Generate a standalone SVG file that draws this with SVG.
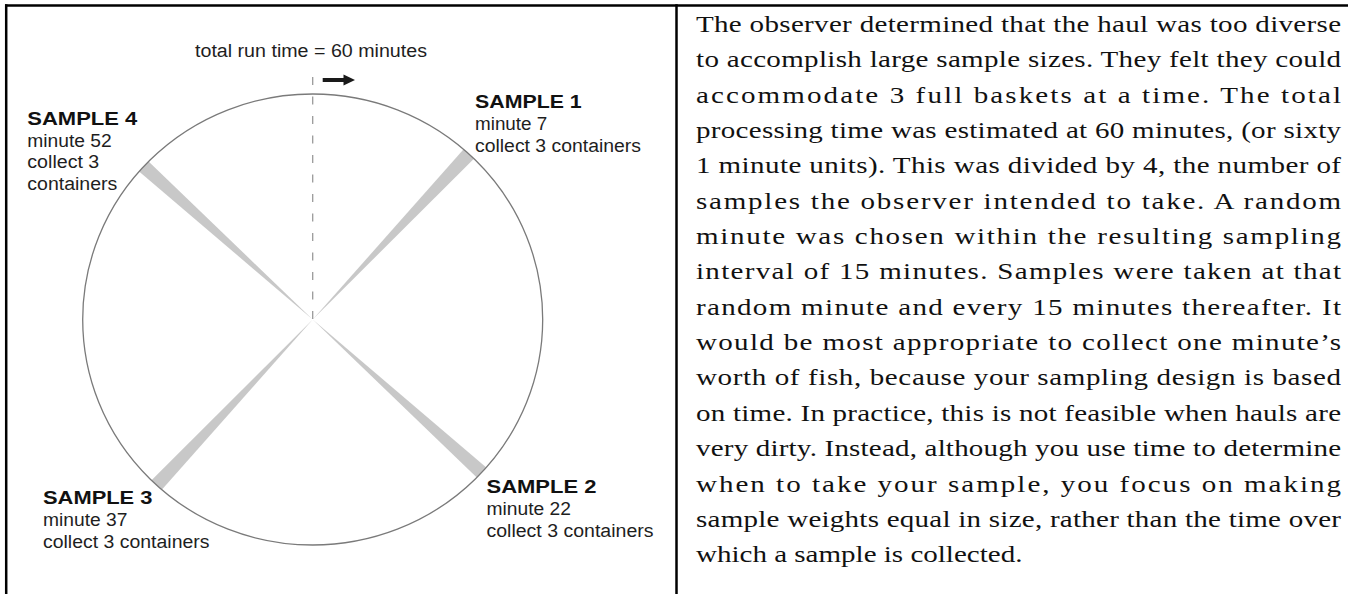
<svg xmlns="http://www.w3.org/2000/svg" width="1348" height="594" viewBox="0 0 1348 594">
  <style>
    .frame { stroke: #000; stroke-width: 2.5; fill: none; }
    .wedge { fill: #c8c8c8; stroke: none; }
    .dial { fill: none; stroke: #7a7a7a; stroke-width: 1.3; }
    .lbl { font-family: "Liberation Sans", Arial, sans-serif; font-size: 18px; fill: #1e1e1e; }
    .hd { font-family: "Liberation Sans", Arial, sans-serif; font-size: 18.5px; font-weight: bold; fill: #111; }
    .para { font-family: "Liberation Serif", "Times New Roman", serif; font-size: 24px; fill: #111; }
  </style>
  <rect width="1348" height="594" fill="#fff"/>

  <g id="frame">
    <line class="frame" x1="5" y1="5.4" x2="1348" y2="5.4"/>
    <line class="frame" x1="6.2" y1="4.2" x2="6.2" y2="594"/>
    <line class="frame" x1="676.5" y1="4.2" x2="676.5" y2="594"/>
  </g>

  <g id="dial">
    <path class="wedge" d="M312.7,319.5 L463.6,149.3 A230,225.5 0 0 1 473.9,158.7 Z"/>
    <path class="wedge" d="M312.7,319.5 L486.3,467.5 A230,225.5 0 0 1 476.8,477.6 Z"/>
    <path class="wedge" d="M312.7,319.5 L161.8,489.7 A230,225.5 0 0 1 151.5,480.3 Z"/>
    <path class="wedge" d="M312.7,319.5 L139.1,171.5 A230,225.5 0 0 1 148.6,161.5 Z"/>
    <ellipse class="dial" cx="312.7" cy="319.5" rx="230" ry="225.5"/>
  </g>

  <g id="connectors">
    <line x1="312.7" y1="77" x2="312.7" y2="319.5" stroke="#9a9a9a" stroke-width="1.3" stroke-dasharray="8 11.5"/>
    <path d="M322.7,78 L343.5,78 L343.5,74.5 L355,80 L343.5,85.5 L343.5,82 L322.7,82 Z" fill="#1a1a1a"/>
  </g>

  <g id="title">
    <text class="lbl" x="195" y="57" textLength="232" lengthAdjust="spacingAndGlyphs">total run time = 60 minutes</text>
  </g>

  <g id="sample1">
    <text class="hd" x="475" y="108.3" textLength="106.7" lengthAdjust="spacingAndGlyphs">SAMPLE 1</text>
    <text class="lbl" x="475" y="130" textLength="72.3" lengthAdjust="spacingAndGlyphs">minute 7</text>
    <text class="lbl" x="475" y="151.7" textLength="166" lengthAdjust="spacingAndGlyphs">collect 3 containers</text>
  </g>

  <g id="sample2">
    <text class="hd" x="486.5" y="493.3" textLength="110" lengthAdjust="spacingAndGlyphs">SAMPLE 2</text>
    <text class="lbl" x="486.5" y="515" textLength="84.5" lengthAdjust="spacingAndGlyphs">minute 22</text>
    <text class="lbl" x="486.5" y="536.7" textLength="167" lengthAdjust="spacingAndGlyphs">collect 3 containers</text>
  </g>

  <g id="sample3">
    <text class="hd" x="43" y="504.3" textLength="109.5" lengthAdjust="spacingAndGlyphs">SAMPLE 3</text>
    <text class="lbl" x="43" y="526" textLength="84.5" lengthAdjust="spacingAndGlyphs">minute 37</text>
    <text class="lbl" x="43" y="547.7" textLength="166.5" lengthAdjust="spacingAndGlyphs">collect 3 containers</text>
  </g>

  <g id="sample4">
    <text class="hd" x="27.3" y="125" textLength="110" lengthAdjust="spacingAndGlyphs">SAMPLE 4</text>
    <text class="lbl" x="27.3" y="146.7" textLength="84.4" lengthAdjust="spacingAndGlyphs">minute 52</text>
    <text class="lbl" x="27.3" y="168.3" textLength="72" lengthAdjust="spacingAndGlyphs">collect 3</text>
    <text class="lbl" x="27.3" y="190" textLength="90" lengthAdjust="spacingAndGlyphs">containers</text>
  </g>

  <g id="description" transform="translate(696,0) scale(1.21,1)">
    <text class="para" x="0" y="32" textLength="533.1" lengthAdjust="spacing">The observer determined that the haul was too diverse</text>
    <text class="para" x="0" y="67.35" textLength="533.1" lengthAdjust="spacing">to accomplish large sample sizes. They felt they could</text>
    <text class="para" x="0" y="102.7" textLength="533.1" lengthAdjust="spacing">accommodate 3 full baskets at a time. The total</text>
    <text class="para" x="0" y="138.05" textLength="533.1" lengthAdjust="spacing">processing time was estimated at 60 minutes, (or sixty</text>
    <text class="para" x="0" y="173.4" textLength="533.1" lengthAdjust="spacing">1 minute units). This was divided by 4, the number of</text>
    <text class="para" x="0" y="208.75" textLength="533.1" lengthAdjust="spacing">samples the observer intended to take. A random</text>
    <text class="para" x="0" y="244.1" textLength="533.1" lengthAdjust="spacing">minute was chosen within the resulting sampling</text>
    <text class="para" x="0" y="279.45" textLength="533.1" lengthAdjust="spacing">interval of 15 minutes. Samples were taken at that</text>
    <text class="para" x="0" y="314.8" textLength="533.1" lengthAdjust="spacing">random minute and every 15 minutes thereafter. It</text>
    <text class="para" x="0" y="350.15" textLength="533.1" lengthAdjust="spacing">would be most appropriate to collect one minute’s</text>
    <text class="para" x="0" y="385.5" textLength="533.1" lengthAdjust="spacing">worth of fish, because your sampling design is based</text>
    <text class="para" x="0" y="420.85" textLength="533.1" lengthAdjust="spacing">on time. In practice, this is not feasible when hauls are</text>
    <text class="para" x="0" y="456.2" textLength="533.1" lengthAdjust="spacing">very dirty. Instead, although you use time to determine</text>
    <text class="para" x="0" y="491.55" textLength="533.1" lengthAdjust="spacing">when to take your sample, you focus on making</text>
    <text class="para" x="0" y="526.9" textLength="533.1" lengthAdjust="spacing">sample weights equal in size, rather than the time over</text>
    <text class="para" x="0" y="562.25">which a sample is collected.</text>
  </g>
</svg>
